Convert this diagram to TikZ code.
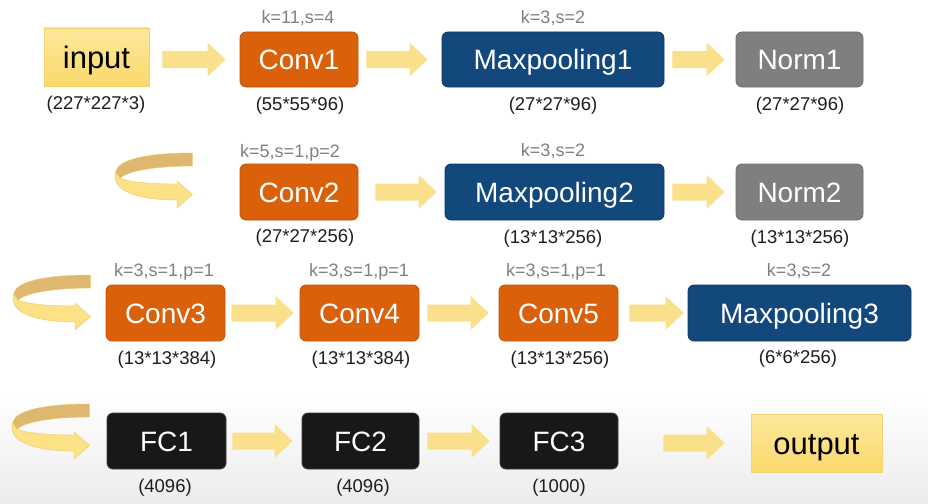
\documentclass[tikz,border=0pt]{standalone}
\usepackage{fontspec}
\setmainfont{Liberation Sans}
\usetikzlibrary{calc}
\definecolor{convor}{RGB}{218,96,10}
\definecolor{convbd}{RGB}{190,84,10}
\definecolor{poolbl}{RGB}{18,72,124}
\definecolor{poolbd}{RGB}{14,58,102}
\definecolor{normgr}{RGB}{127,127,127}
\definecolor{normbd}{RGB}{110,110,110}
\definecolor{fcbk}{RGB}{24,24,24}
\definecolor{fcbd}{RGB}{60,60,60}
\definecolor{iotop}{RGB}{253,232,155}
\definecolor{iobot}{RGB}{250,216,108}
\definecolor{iobd}{RGB}{244,212,110}
\definecolor{arrfill}{RGB}{251,224,140}
\definecolor{uturnback}{RGB}{222,183,112}
\definecolor{uturnfront}{RGB}{252,225,135}
\definecolor{uturnedge}{RGB}{240,202,95}
\definecolor{paramgr}{RGB}{128,128,128}
\definecolor{dimbk}{RGB}{30,30,30}
\definecolor{bgbot}{RGB}{236,236,236}
\newcommand\boxfont{\fontsize{28pt}{30pt}\selectfont}
\newcommand\iofont{\fontsize{31pt}{33pt}\selectfont}
\newcommand\lblfont{\fontsize{18pt}{20pt}\selectfont}
\newcommand\dimfont{\fontsize{18.5pt}{20pt}\selectfont}
\tikzset{
  box/.style={rounded corners=6pt, draw, line width=0.8pt, inner sep=0pt, text=white,
    font=\boxfont, text height=20pt, text depth=0pt},
  conv/.style={box, fill=convor, draw=convbd},
  pool/.style={box, fill=poolbl, draw=poolbd},
  norm/.style={box, fill=normgr, draw=normbd},
  fc/.style={box, fill=fcbk, draw=fcbd},
  io/.style={draw=iobd, top color=iotop, bottom color=iobot, text=black, font=\iofont,
    line width=0.6pt, inner sep=0pt, text height=22pt, text depth=0pt},
  param/.style={text=paramgr, font=\lblfont, inner sep=0pt, text height=13pt, text depth=0pt},
  dims/.style={text=dimbk, font=\dimfont, inner sep=0pt, text height=13.3pt, text depth=0pt},
  fatarrow/.style={fill=arrfill, to path={let \p1=(\tikztostart), \p2=(\tikztotarget) in
    (\x1,\y2+8.5pt) -- (\x2-18pt,\y2+8.5pt) -- (\x2-18pt,\y2+17pt) -- (\x2,\y2)
    -- (\x2-18pt,\y2-17pt) -- (\x2-18pt,\y2-8.5pt) -- (\x1,\y2-8.5pt) -- cycle}},
  uturn/.pic={
    \path[fill=uturnback, draw=uturnedge, line width=0.4pt]
      (77.3,0) -- (77.3,13) .. controls (40,13) and (12,18) .. (5,25.3)
      -- (0.7,18.7) .. controls (3,7) and (30,0) .. (77.3,0) -- cycle;
    \path[fill=uturnfront, draw=uturnedge, line width=0.4pt]
      (0.7,18.7) .. controls (-0.3,24) .. (1.7,30.3)
      .. controls (8,41) and (30,47) .. (62,47) -- (62,55) -- (77.5,41.5) -- (62,28) -- (62,31)
      .. controls (35,31) and (15,29) .. (5,25.3) -- cycle;
  }
}
\begin{document}
\begin{tikzpicture}[x=1pt,y=-1pt]
\useasboundingbox (0,0) rectangle (928,503);
\fill[white] (0,0) rectangle (928,503);
\shade[top color=white, bottom color=bgbot] (0,395) rectangle (928,503);

% Row 1
\node[io, minimum width=105pt, minimum height=58pt] (in) at (96.5,57) {input};
\node[conv, minimum width=118pt, minimum height=55pt] (c1) at (299,59.5) {Conv1};
\node[pool, minimum width=222pt, minimum height=55pt] (p1) at (553,59.5) {Maxpooling1};
\node[norm, minimum width=127pt, minimum height=55pt] (n1) at (799.5,59.5) {Norm1};
\node[param] (c1k) at (298,17) {k=11,s=4};
\node[param] (p1k) at (553,17) {k=3,s=2};
\node[dims] (ind) at (96,103) {(227*227*3)};
\node[dims] (c1d) at (300,104) {(55*55*96)};
\node[dims] (p1d) at (553,104) {(27*27*96)};
\node[dims] (n1d) at (800,104) {(27*27*96)};
\path[fatarrow] ([xshift=13pt]in.east) to ([xshift=-14pt]c1.west);
\path[fatarrow] ([xshift=8pt]c1.east) to ([xshift=-14pt]p1.west);
\path[fatarrow] ([xshift=8pt]p1.east) to ([xshift=-11pt]n1.west);

% Row 2
\pic at (115,153) {uturn};
\node[conv, minimum width=118pt, minimum height=56pt] (c2) at (299,192) {Conv2};
\node[pool, minimum width=219pt, minimum height=56pt] (p2) at (554.5,192) {Maxpooling2};
\node[norm, minimum width=127pt, minimum height=56pt] (n2) at (799.5,192) {Norm2};
\node[param] (c2k) at (290,151) {k=5,s=1,p=2};
\node[param] (p2k) at (553,150) {k=3,s=2};
\node[dims] (c2d) at (305,236) {(27*27*256)};
\node[dims] (p2d) at (553,237) {(13*13*256)};
\node[dims] (n2d) at (800,237) {(13*13*256)};
\path[fatarrow] ([xshift=17pt]c2.east) to ([xshift=-8pt]p2.west);
\path[fatarrow] ([xshift=8pt]p2.east) to ([xshift=-11pt]n2.west);

% Row 3
\pic at (13,275) {uturn};
\node[conv, minimum width=119pt, minimum height=56pt] (c3) at (165.5,313) {Conv3};
\node[conv, minimum width=119pt, minimum height=56pt] (c4) at (359.5,313) {Conv4};
\node[conv, minimum width=119pt, minimum height=56pt] (c5) at (558.5,313) {Conv5};
\node[pool, minimum width=223pt, minimum height=56pt] (p3) at (799.5,313) {Maxpooling3};
\node[param] (c3k) at (164,270) {k=3,s=1,p=1};
\node[param] (c4k) at (359,270) {k=3,s=1,p=1};
\node[param] (c5k) at (556,270) {k=3,s=1,p=1};
\node[param] (p3k) at (799,270) {k=3,s=2};
\node[dims] (c3d) at (167,358) {(13*13*384)};
\node[dims] (c4d) at (361,358) {(13*13*384)};
\node[dims] (c5d) at (560,358) {(13*13*256)};
\node[dims] (p3d) at (798,357) {(6*6*256)};
\path[fatarrow] ([xshift=6pt]c3.east) to ([xshift=-6pt]c4.west);
\path[fatarrow] ([xshift=8pt]c4.east) to ([xshift=-10pt]c5.west);
\path[fatarrow] ([xshift=11pt]c5.east) to ([xshift=-4pt]p3.west);

% Row 4
\pic at (12,404) {uturn};
\node[fc, minimum width=119pt, minimum height=56pt] (f1) at (166.5,441) {FC1};
\node[fc, minimum width=117pt, minimum height=56pt] (f2) at (360.5,441) {FC2};
\node[fc, minimum width=118pt, minimum height=56pt] (f3) at (559,441) {FC3};
\node[io, minimum width=131pt, minimum height=58pt] (out) at (816.5,443) {output};
\node[dims] (f1d) at (165,486) {(4096)};
\node[dims] (f2d) at (363,486) {(4096)};
\node[dims] (f3d) at (559,486) {(1000)};
\path[fatarrow] ([xshift=6pt]f1.east) to ([xshift=-9pt]f2.west);
\path[fatarrow] ([xshift=8pt]f2.east) to ([xshift=-10pt]f3.west);
\path[fatarrow] ([xshift=45pt]f3.east) to ([xshift=-26pt]out.west);
\end{tikzpicture}
\end{document}
